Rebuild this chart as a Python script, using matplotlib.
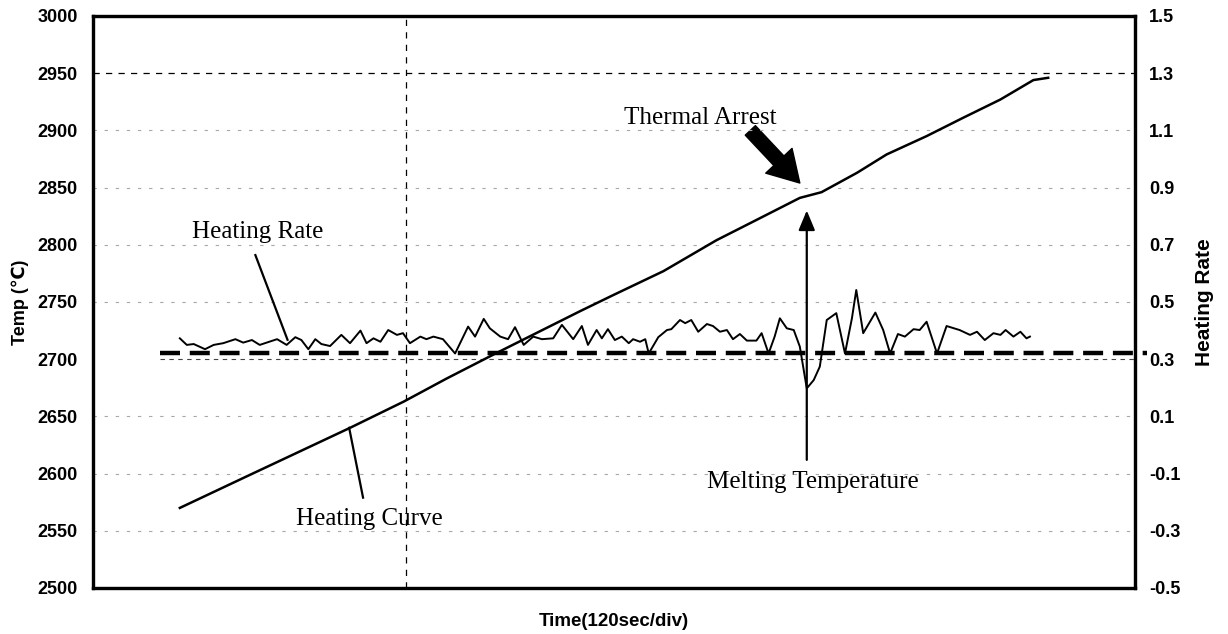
import numpy as np
import matplotlib
matplotlib.use("Agg")
import matplotlib.pyplot as plt
from matplotlib.patches import FancyArrowPatch

# -----------------------------
# Data (time in s, 120 s per division)
# -----------------------------
curve_t = [100, 181, 296, 358, 407, 461, 561, 599, 657, 718, 757, 814,
           839, 880, 914, 960, 1002, 1045, 1083, 1100]
curve_temp = [2570, 2599, 2640, 2663, 2683, 2704, 2742, 2756, 2777, 2804,
              2819, 2841, 2846, 2863, 2879, 2895, 2911, 2927, 2944, 2946]

rate_t = [100, 108, 116, 129, 139, 150, 164, 173, 183, 192, 200, 212, 223,
          233, 240, 248, 256, 263, 273, 286, 296, 308, 315, 323, 331, 340,
          350, 357, 365, 377, 384, 392, 403, 417, 432, 440, 450, 457, 469,
          478, 486, 496, 507, 517, 530, 540, 553, 563, 570, 580, 586, 593,
          601, 609, 617, 622, 630, 636, 640, 651, 661, 666, 676, 682, 689,
          697, 707, 714, 722, 730, 737, 745, 753, 764, 770, 778, 785, 791,
          799, 807, 814, 822, 830, 837, 845, 856, 866, 874, 879, 887, 901,
          910, 918, 927, 935, 945, 952, 960, 972, 983, 998, 1010, 1018,
          1027, 1037, 1045, 1051, 1060, 1068, 1075, 1079]
rate_val = [0.373, 0.350, 0.353, 0.335, 0.350, 0.356, 0.370, 0.358, 0.367,
            0.350, 0.358, 0.370, 0.350, 0.377, 0.367, 0.335, 0.370, 0.353,
            0.346, 0.385, 0.356, 0.400, 0.356, 0.373, 0.361, 0.402, 0.385,
            0.391, 0.356, 0.379, 0.370, 0.379, 0.370, 0.320, 0.414, 0.379,
            0.441, 0.408, 0.379, 0.370, 0.412, 0.350, 0.379, 0.370, 0.373,
            0.420, 0.370, 0.416, 0.350, 0.402, 0.373, 0.405, 0.367, 0.379,
            0.356, 0.370, 0.361, 0.370, 0.320, 0.377, 0.402, 0.405, 0.437,
            0.426, 0.437, 0.396, 0.423, 0.416, 0.396, 0.402, 0.370, 0.388,
            0.365, 0.365, 0.391, 0.320, 0.379, 0.443, 0.408, 0.402, 0.344,
            0.198, 0.227, 0.274, 0.437, 0.461, 0.320, 0.443, 0.542, 0.391,
            0.463, 0.402, 0.320, 0.388, 0.379, 0.405, 0.402, 0.431, 0.320,
            0.416, 0.402, 0.385, 0.396, 0.367, 0.391, 0.385, 0.402, 0.379,
            0.396, 0.373, 0.379]

rate_base = 0.32
base_span = [77, 1214]

temp_ticks = list(range(2500, 3001, 50))
rate_ticks = [-0.5, -0.3, -0.1, 0.1, 0.3, 0.5, 0.7, 0.9, 1.1, 1.3, 1.5]

# annotation anchors (time, temp)
arrest_tail = (757, 2900)
arrest_tip = (814, 2854)
melt_from = (822, 2612)
melt_to = (822, 2830)
rate_ptr = [(187, 2791), (224, 2717)]
curve_ptr = [(311, 2579), (295, 2640)]

# -----------------------------
# Figure
# -----------------------------
fig = plt.figure(figsize=(12.28, 6.34), dpi=100)
ax = fig.add_axes([93 / 1228, 46 / 634, 1042 / 1228, 572 / 634])
ax2 = ax.twinx()

ax.set_xlim(0, 1200)
ax.set_ylim(2500, 3000)
ax2.set_ylim(-0.5, 1.5)

# grid
for v in temp_ticks[1:-1]:
    if v == 2950:
        ax.axhline(v, color="black", lw=0.9, dashes=(5, 5))
    elif v == 2700:
        ax.plot([77, 1200], [v, v], color="#444444", lw=0.8, dashes=(4, 4))
    else:
        ax.axhline(v, color="#a8a8a8", lw=0.8, dashes=(3, 7))
ax.axvline(360, color="black", lw=0.9, dashes=(5, 5))

# series
ax.plot(curve_t, curve_temp, color="black", lw=1.8)
ax2.plot(rate_t, rate_val, color="black", lw=1.4)
ax2.plot(base_span, [rate_base, rate_base], color="black", lw=3.2,
         dashes=(4.5, 2.2), clip_on=False)

# spines / ticks
for a in (ax, ax2):
    for s in a.spines.values():
        s.set_linewidth(2.3)
ax.set_xticks([])
ax.set_yticks(temp_ticks)
ax2.set_yticks(rate_ticks)
ax2.set_yticklabels([f"{v:.1f}" for v in rate_ticks])
ax.tick_params(axis="y", length=0, pad=11)
ax2.tick_params(axis="y", length=0, pad=10)
for lab in ax.get_yticklabels() + ax2.get_yticklabels():
    lab.set_family(["Liberation Sans", "DejaVu Sans"])
    lab.set_fontweight("bold")
    lab.set_fontsize(13)

ax.set_xlabel("Time(120sec/div)", family=["Liberation Sans", "DejaVu Sans"],
              fontweight="bold", fontsize=13.5)
ax.xaxis.set_label_coords(0.5, -0.043)
ax.set_ylabel("Temp (℃)", family=["Liberation Sans", "DejaVu Sans"],
              fontweight="bold", fontsize=13, va="center")
ax.yaxis.set_label_coords(-0.07, 0.5)
ax2.set_ylabel("Heating Rate", family=["Liberation Sans", "DejaVu Sans"],
               fontweight="bold", fontsize=15, va="center", rotation=90)
ax2.yaxis.set_label_coords(1.067, 0.5)

# annotations
serif = ["Liberation Serif", "DejaVu Serif"]
ax.text(699, 2911, "Thermal Arrest", family=serif, fontsize=18,
        ha="center", va="center")
ax.text(190, 2811, "Heating Rate", family=serif, fontsize=18,
        ha="center", va="center")
ax.text(318, 2560, "Heating Curve", family=serif, fontsize=18,
        ha="center", va="center")
ax.text(829, 2593, "Melting Temperature", family=serif, fontsize=18,
        ha="center", va="center")

ax.plot(*zip(*rate_ptr), color="black", lw=1.6)
ax.plot(*zip(*curve_ptr), color="black", lw=1.6)

fat = FancyArrowPatch(arrest_tail, arrest_tip, mutation_scale=1,
                      arrowstyle="simple,head_length=22,head_width=26,tail_width=10",
                      color="black", shrinkA=0, shrinkB=0)
ax.add_patch(fat)
ax.annotate("", xy=melt_to, xytext=melt_from,
            arrowprops=dict(arrowstyle="-|>,head_length=0.6,head_width=0.25",
                            mutation_scale=20, color="black", lw=1.6,
                            shrinkA=0, shrinkB=0))

plt.savefig("out.png", dpi=100)
